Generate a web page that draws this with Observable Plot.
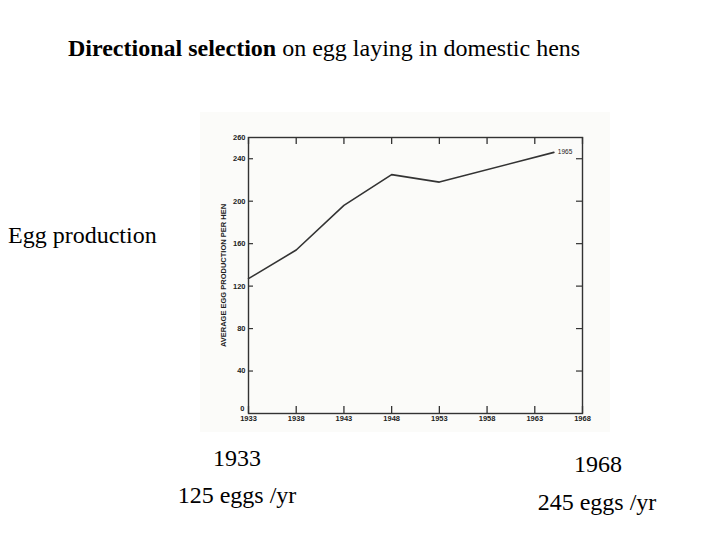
<!DOCTYPE html>
<html><head><meta charset="utf-8">
<script src="https://cdn.jsdelivr.net/npm/d3@7"></script>
<script src="https://cdn.jsdelivr.net/npm/@observablehq/plot@0.6"></script>
<style>
html,body{margin:0;padding:0;background:#fff;}
#slide{position:relative;width:720px;height:540px;overflow:hidden;}
#scan{position:absolute;left:200px;top:112px;width:410px;height:320px;overflow:hidden;background:#fbfbf9;}
#scan svg{display:block;max-width:none;}
#notes{position:absolute;left:0;top:0;font-family:"Liberation Serif","Times New Roman",serif;font-size:24px;fill:#000;}
</style></head><body>
<div id="slide">
  <div id="scan"></div>
  <svg id="notes" width="720" height="540">
    <text x="68" y="56"><tspan font-weight="bold">Directional selection</tspan> on egg laying in domestic hens</text>
    <text x="8" y="243">Egg production</text>
    <text x="237" y="466" text-anchor="middle">1933</text>
    <text x="237" y="503" text-anchor="middle">125 eggs /yr</text>
    <text x="598" y="472" text-anchor="middle">1968</text>
    <text x="597" y="510" text-anchor="middle">245 eggs /yr</text>
  </svg>
</div>
<script>
// Data
const years = [1933, 1938, 1943, 1948, 1953, 1965];
const eggs = [127, 154, 196, 225, 218, 246];
const xTicks = [1933, 1938, 1943, 1948, 1953, 1958, 1963, 1968];
const yTickLabels = [40, 80, 120, 160, 200, 240, 260];
const yZeroLabel = [0];
const yTickMarks = [40, 80, 120, 160, 200, 240];
const endLabel = "1965";

const data = years.map((y, i) => ({year: y, eggs: eggs[i]}));
const last = data[data.length - 1];
const ink = "#333";
const font = "Liberation Sans, Arial, sans-serif";

const chart = Plot.plot({
  width: 410,
  height: 340,
  marginLeft: 48,
  marginRight: 28,
  marginTop: 25,
  marginBottom: 39,
  style: {background: "#fbfbf9", fontFamily: font, color: "#222"},
  x: {domain: [1933, 1968]},
  y: {domain: [0, 260]},
  marks: [
    Plot.frame({stroke: ink, strokeWidth: 1.4}),
    Plot.tickX(xTicks, {x: d => d, insetTop: 269, stroke: ink, strokeWidth: 1.3}),
    Plot.tickX(xTicks, {x: d => d, insetBottom: 269, stroke: ink, strokeWidth: 1.3}),
    Plot.tickY(yTickMarks, {y: d => d, insetRight: 329, stroke: ink, strokeWidth: 1.2}),
    Plot.tickY(yTickMarks, {y: d => d, insetLeft: 328, stroke: ink, strokeWidth: 1.2}),
    Plot.axisX({ticks: xTicks, tickSize: 0, tickPadding: 2.5, tickFormat: d => String(d), fontSize: 7.5, fontWeight: 600,
      label: "YEAR OF HATCH", labelAnchor: "center", labelArrow: "none", labelOffset: 24}),
    Plot.axisY({ticks: yTickLabels, tickSize: 0, tickPadding: 3, tickFormat: d => String(d), fontSize: 7.5, fontWeight: 600,
      label: "AVERAGE EGG PRODUCTION PER HEN", labelAnchor: "center", labelArrow: "none", labelOffset: 28}),
    Plot.axisY({ticks: yZeroLabel, tickSize: 0, tickPadding: 4, tickFormat: d => String(d), fontSize: 7.5, fontWeight: 600,
      dy: -5, label: null}),
    Plot.line(data, {x: "year", y: "eggs", stroke: ink, strokeWidth: 1.6}),
    Plot.text([last], {x: "year", y: "eggs", text: () => endLabel, textAnchor: "start", dx: 4, fontSize: 6.5, fill: "#222"})
  ]
});
document.getElementById("scan").appendChild(chart);
</script>
</body></html>
